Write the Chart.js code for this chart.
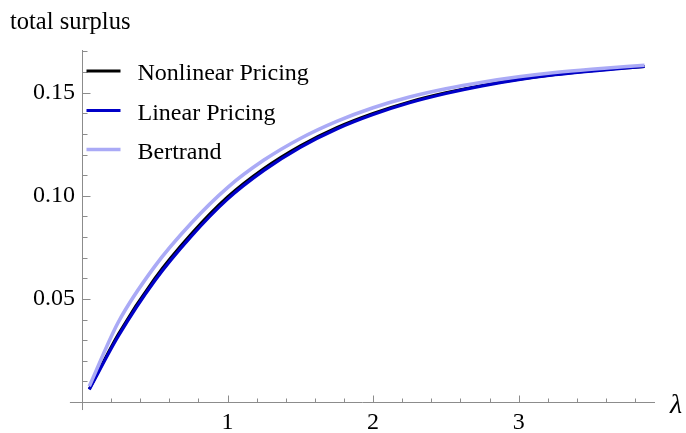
<!DOCTYPE html>
<html>
<head>
<meta charset="utf-8">
<script src="https://cdn.jsdelivr.net/npm/chart.js@4.4.1/dist/chart.umd.min.js"></script>
<style>
  html, body { margin: 0; padding: 0; background: #ffffff; }
  #wrap { width: 686px; height: 433px; }
</style>
</head>
<body>
<div id="wrap"><canvas id="c" width="686" height="433"></canvas></div>
<script>
// ---- data ----
const lambdaValues = [0.05, 0.25, 0.5, 0.75, 1.0, 1.25, 1.5, 1.75, 2.0, 2.25, 2.5, 2.75, 3.0, 3.25, 3.5, 3.865];
const nonlinearPricing = [0.0063, 0.0330, 0.0600, 0.0815, 0.0995, 0.1133, 0.1243, 0.1331, 0.1400, 0.1456, 0.1500, 0.1536, 0.1565, 0.1588, 0.1606, 0.1627];
const linearPricing    = [0.0061, 0.0320, 0.0588, 0.0803, 0.0984, 0.1123, 0.1235, 0.1324, 0.1394, 0.1451, 0.1496, 0.1533, 0.1563, 0.1587, 0.1605, 0.1627];
const bertrand         = [0.0076, 0.0388, 0.0658, 0.0867, 0.1040, 0.1173, 0.1278, 0.1361, 0.1427, 0.1479, 0.1519, 0.1551, 0.1577, 0.1598, 0.1614, 0.1633];

const seriesLabels = ["Nonlinear Pricing", "Linear Pricing", "Bertrand"];
const xTickLabels = [1, 2, 3];
const xMinorTicks = [0.2, 0.4, 0.6, 0.8, 1.2, 1.4, 1.6, 1.8, 2.2, 2.4, 2.6, 2.8, 3.2, 3.4, 3.6, 3.8];
const yTickLabels = [0.05, 0.10, 0.15];
const yMinorTicks = [0.01, 0.02, 0.03, 0.04, 0.06, 0.07, 0.08, 0.09, 0.11, 0.12, 0.13, 0.14, 0.16, 0.17];
const yAxisTitle = "total surplus";
const xAxisTitle = "λ";

const SERIF = '"Liberation Serif", "DejaVu Serif", serif';
const AXIS_COLOR = '#8c8c8c';

function pts(ys) { return lambdaValues.map((x, i) => ({ x: x, y: ys[i] })); }

const axesPlugin = {
  id: 'mmaAxes',
  afterDraw(chart) {
    const ctx = chart.ctx;
    const xs = chart.scales.x, ys = chart.scales.y;
    const x0 = Math.round(xs.getPixelForValue(0)) + 0.5;
    const y0 = Math.round(ys.getPixelForValue(0)) + 0.5;
    ctx.save();
    ctx.strokeStyle = AXIS_COLOR;
    ctx.lineWidth = 1;
    ctx.beginPath();
    // x axis
    ctx.moveTo(xs.getPixelForValue(-0.083), y0);
    ctx.lineTo(xs.right, y0);
    // y axis
    ctx.moveTo(x0, ys.getPixelForValue(-0.0039));
    ctx.lineTo(x0, ys.top);
    // x ticks (pointing up)
    xTickLabels.forEach(v => { const p = Math.round(xs.getPixelForValue(v)) + 0.5; ctx.moveTo(p, y0); ctx.lineTo(p, y0 - 7); });
    xMinorTicks.forEach(v => { const p = Math.round(xs.getPixelForValue(v)) + 0.5; ctx.moveTo(p, y0); ctx.lineTo(p, y0 - 4); });
    // y ticks (pointing right)
    yTickLabels.forEach(v => { const p = Math.round(ys.getPixelForValue(v)) + 0.5; ctx.moveTo(x0, p); ctx.lineTo(x0 + 8, p); });
    yMinorTicks.forEach(v => { const p = Math.round(ys.getPixelForValue(v)) + 0.5; ctx.moveTo(x0, p); ctx.lineTo(x0 + 5, p); });
    ctx.stroke();

    // x axis label
    ctx.fillStyle = '#000';
    ctx.font = 'italic 28px ' + SERIF;
    ctx.textAlign = 'left';
    ctx.textBaseline = 'alphabetic';
    ctx.fillText(xAxisTitle, xs.right + 15, y0 + 10);

    // legend
    const legendX = x0 + 4, legendTextX = x0 + 55;
    const baselines = [80, 119.5, 158.5];
    ctx.font = '24px ' + SERIF;
    chart.data.datasets.forEach((ds, i) => {
      ctx.strokeStyle = ds.borderColor;
      ctx.lineWidth = ds.borderWidth;
      ctx.lineCap = 'butt';
      ctx.beginPath();
      ctx.moveTo(legendX, baselines[i] - 9);
      ctx.lineTo(legendX + 34, baselines[i] - 9);
      ctx.stroke();
      ctx.fillStyle = '#000';
      ctx.fillText(ds.label, legendTextX, baselines[i]);
    });
    ctx.restore();
  }
};

new Chart(document.getElementById('c'), {
  type: 'line',
  data: {
    datasets: [
      { label: seriesLabels[0], data: pts(nonlinearPricing), borderColor: '#000000', borderWidth: 2.8, order: 3 },
      { label: seriesLabels[1], data: pts(linearPricing), borderColor: '#0000c8', borderWidth: 3.2, order: 2 },
      { label: seriesLabels[2], data: pts(bertrand), borderColor: '#aaaaf6', borderWidth: 3.6, order: 1 }
    ].map(d => Object.assign(d, { pointRadius: 0, fill: false, cubicInterpolationMode: 'monotone', borderCapStyle: 'butt', clip: false }))
  },
  options: {
    responsive: false,
    animation: false,
    devicePixelRatio: 1,
    layout: { padding: { left: 10, right: 31, top: 0, bottom: 0 } },
    plugins: {
      legend: { display: false },
      tooltip: { enabled: false },
      title: {
        display: true,
        text: yAxisTitle,
        align: 'start',
        color: '#000',
        font: { family: SERIF, size: 24.5, weight: 'normal' },
        padding: { top: 8, bottom: 12.6 }
      }
    },
    scales: {
      x: {
        type: 'linear',
        min: 0,
        max: 3.937,
        afterBuildTicks: s => { s.ticks = xTickLabels.map(v => ({ value: v })); },
        afterFit: s => { s.height = 31; },
        grid: { display: false, drawTicks: false },
        border: { display: false },
        ticks: {
          color: '#000',
          font: { family: SERIF, size: 24 },
          padding: 6,
          maxRotation: 0,
          autoSkip: false,
          callback: v => String(v)
        }
      },
      y: {
        type: 'linear',
        min: 0,
        max: 0.1707,
        afterBuildTicks: s => { s.ticks = yTickLabels.map(v => ({ value: v })); },
        afterFit: s => { s.width = 72; },
        grid: { display: false, drawTicks: false },
        border: { display: false },
        ticks: {
          color: '#000',
          font: { family: SERIF, size: 24 },
          padding: 7,
          autoSkip: false,
          callback: v => v.toFixed(2)
        }
      }
    }
  },
  plugins: [axesPlugin]
});
</script>
</body>
</html>
